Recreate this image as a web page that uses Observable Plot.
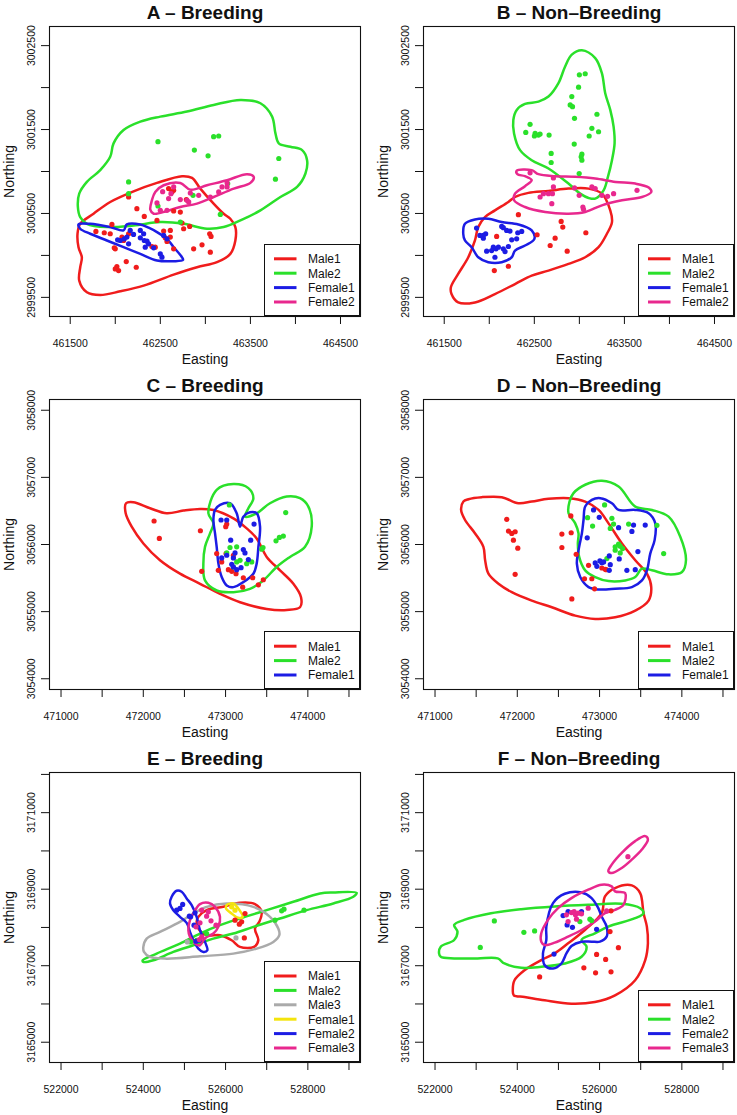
<!DOCTYPE html>
<html><head><meta charset="utf-8">
<script src="https://cdn.jsdelivr.net/npm/d3@7"></script>
<script src="https://cdn.jsdelivr.net/npm/@observablehq/plot@0.6"></script>
<style>
html,body{margin:0;padding:0;background:#fff;overflow:hidden;}
#page{position:relative;width:737px;height:1115px;font-family:"Liberation Sans",Arial,Helvetica,sans-serif;}
#page svg{position:absolute;}
</style></head><body><div id="page"></div>
<script>
// ---------- axes ----------
const xDomainAB = [461270, 464722];
const yDomainAB = [2999272, 3002728];
const xTicksAB = [461500, 462000, 462500, 463000, 463500, 464000, 464500];
const xLabelsAB = [461500, 462500, 463500, 464500];
const yTicksAB = [2999500, 3000000, 3000500, 3001000, 3001500, 3002000, 3002500];
const yLabelsAB = [2999500, 3000500, 3001500, 3002500];

const xDomainCD = [470860, 474640];
const yDomainCD = [3053840, 3058160];
const xTicksCD = [471000, 471500, 472000, 472500, 473000, 473500, 474000, 474500];
const xLabelsCD = [471000, 472000, 473000, 474000];
const yTicksCD = [3054000, 3055000, 3056000, 3057000, 3058000];
const yLabelsCD = [3054000, 3055000, 3056000, 3057000, 3058000];

const xDomainEF = [521720, 529280];
const yDomainEF = [3164470, 3172050];
const xTicksEF = [522000, 523000, 524000, 525000, 526000, 527000, 528000, 529000];
const xLabelsEF = [522000, 524000, 526000, 528000];
const yTicksEF = [3165000, 3166000, 3167000, 3168000, 3169000, 3170000, 3171000, 3172000];
const yLabelsEF = [3165000, 3167000, 3169000, 3171000];

// ---------- groups & colours ----------
const groupsAB = ["Male1", "Male2", "Female1", "Female2"];
const colorsAB = ["#f01c1c", "#2ae02a", "#1c1ce4", "#e8288e"];
const groupsCD = ["Male1", "Male2", "Female1"];
const colorsCD = ["#f01c1c", "#2ae02a", "#1c1ce4"];
const groupsE = ["Male1", "Male2", "Male3", "Female1", "Female2", "Female3"];
const colorsE = ["#f01c1c", "#2ae02a", "#aaaaaa", "#f4e40c", "#1c1ce4", "#e8288e"];
const groupsF = ["Male1", "Male2", "Female2", "Female3"];
const colorsF = ["#f01c1c", "#2ae02a", "#1c1ce4", "#e8288e"];

// ---------- A : Breeding ----------
const rangesA = {
  Male1: [[461581,3000258],[461592,3000098],[461629,2999978],[461611,2999859],[461600,2999699],[461685,2999560],[461833,2999528],[462055,2999572],[462315,2999640],[462648,2999771],[462907,2999859],[463129,2999919],[463277,3000018],[463333,3000178],[463333,3000337],[463277,3000437],[463203,3000497],[463092,3000617],[462944,3000796],[462852,3000924],[462741,3000944],[462463,3000864],[462203,3000764],[461944,3000637],[461759,3000497],[461611,3000377]],
  Male2: [[461611,3000457],[461685,3000377],[461907,3000338],[462203,3000357],[462500,3000397],[462759,3000377],[463018,3000318],[463203,3000338],[463389,3000417],[463611,3000537],[463833,3000696],[464018,3000816],[464111,3000976],[464129,3001135],[464074,3001255],[463944,3001295],[463815,3001335],[463778,3001454],[463741,3001654],[463611,3001813],[463389,3001853],[463092,3001793],[462796,3001714],[462500,3001654],[462278,3001594],[462092,3001494],[461981,3001335],[461944,3001175],[461833,3001016],[461685,3000876],[461600,3000736],[461585,3000577]],
  Female1: [[461592,3000369],[461722,3000377],[461944,3000338],[462092,3000298],[462129,3000369],[462278,3000369],[462370,3000330],[462463,3000278],[462574,3000198],[462648,3000098],[462741,2999978],[462752,2999946],[462648,2999931],[462463,2999939],[462278,3000018],[462092,3000098],[461907,3000178],[461722,3000258],[461611,3000318]],
  Female2: [[462444,3000756],[462537,3000836],[462722,3000864],[462833,3000784],[463018,3000836],[463241,3000896],[463463,3000968],[463537,3000936],[463500,3000864],[463315,3000796],[463092,3000696],[462907,3000617],[462722,3000577],[462574,3000529],[462426,3000497],[462389,3000545],[462407,3000657]]
};
const pointsA = {
  Male1: [[461785,3000286],[461878,3000270],[461944,3000258],[461963,3000369],[462000,3000078],[461989,3000090],[462074,3000218],[462018,2999867],[462000,2999839],[462037,2999819],[462122,2999927],[462233,2999859],[462092,3000178],[462240,3000557],[462322,3000465],[462407,3000106],[462444,3000098],[462463,3000417],[462537,3000290],[462555,3000210],[462574,3000166],[462611,3000218],[462648,3000078],[462722,3000517],[462741,3000385],[462759,3000318],[462826,3000346],[462870,3000078],[462963,3000126],[463048,3000258],[463063,3000226],[463055,3000038],[462789,3000665],[462648,3000529],[462592,3000796],[462629,3000756],[462648,3000776],[462148,3000696],[462148,3000258],[462611,3000298]],
  Male2: [[462474,3001355],[462878,3001255],[463030,3001187],[463092,3001415],[463148,3001423],[463815,3001155],[463778,3000908],[462148,3000876],[462148,3000736],[462474,3000589],[462863,3000716],[463248,3000856],[463166,3000489],[462722,3000397]],
  Female1: [[462026,3000186],[462055,3000178],[462100,3000198],[462129,3000218],[462166,3000298],[462203,3000250],[462278,3000298],[462315,3000258],[462322,3000178],[462352,3000170],[462370,3000138],[462426,3000090],[462500,3000018],[462537,3000238],[462574,3000198],[462148,3000138],[462278,3000210],[462333,3000098],[462518,2999979]],
  Female2: [[462500,3000537],[462574,3000537],[462592,3000677],[462618,3000736],[462648,3000816],[462722,3000665],[462796,3000657],[462815,3000637],[462833,3000744],[462926,3000716],[463055,3000696],[463148,3000756],[463185,3000816],[463241,3000816],[463241,3000864],[462463,3000625],[462526,3000760]]
};

// ---------- B : Non-Breeding ----------
const rangesB = {
  Male1: [[461581,2999540],[461574,2999620],[461655,2999779],[461767,2999978],[461841,3000178],[461878,3000338],[461952,3000457],[462063,3000537],[462212,3000637],[462286,3000696],[462434,3000745],[462657,3000768],[462879,3000796],[463102,3000796],[463250,3000736],[463343,3000537],[463362,3000397],[463306,3000258],[463213,3000098],[463065,2999978],[462879,2999899],[462657,2999819],[462471,2999759],[462286,2999659],[462063,2999540],[461841,2999440],[461655,2999440]],
  Male2: [[463028,3002444],[463176,3002352],[463250,3002172],[463287,3001933],[463343,3001734],[463380,3001534],[463391,3001335],[463362,3001135],[463317,3000936],[463269,3000776],[463176,3000677],[463102,3000685],[463009,3000736],[462879,3000856],[462657,3001036],[462471,3001135],[462342,3001255],[462275,3001454],[462267,3001614],[462305,3001734],[462397,3001805],[462546,3001833],[462657,3001893],[462768,3002053],[462842,3002252],[462916,3002392]],
  Female1: [[461711,3000258],[461730,3000377],[461841,3000429],[461989,3000437],[462138,3000397],[462323,3000369],[462471,3000298],[462501,3000198],[462397,3000118],[462286,3000058],[462249,2999978],[462138,2999919],[461989,2999919],[461878,2999978],[461804,3000098],[461730,3000178]],
  Female2: [[462304,3001008],[462471,3001016],[462546,3000968],[462731,3000944],[462954,3000936],[463176,3000916],[463401,3000876],[463621,3000856],[463770,3000808],[463799,3000756],[463695,3000696],[463473,3000657],[463250,3000597],[463065,3000517],[462879,3000497],[462620,3000517],[462397,3000577],[462275,3000657],[462286,3000736],[462397,3000825],[462471,3000896],[462397,3000944],[462312,3000968]]
};
const pointsB = {
  Male1: [[462323,3000485],[462798,3000405],[462816,3000338],[462531,3000246],[462731,3000206],[462676,3000118],[462865,3000050],[463072,3000270],[462082,3000226],[462056,2999819],[462212,2999871]],
  Male2: [[463000,3002152],[463065,3002165],[462991,3002005],[462916,3001893],[462898,3001793],[462924,3001773],[462946,3001634],[463195,3001682],[463139,3001514],[463213,3001474],[463109,3001423],[462943,3001327],[463028,3001207],[463020,3001175],[463028,3001135],[462998,3000976],[462687,3001215],[462687,3001107],[462664,3001434],[462509,3001454],[462546,3001434],[462564,3001447],[462501,3001423],[462405,3001466],[462453,3001562]],
  Female1: [[461859,3000326],[461896,3000238],[461934,3000206],[461960,3000258],[462138,3000346],[462193,3000298],[462230,3000290],[462316,3000270],[462360,3000286],[462304,3000198],[462045,3000098],[462075,3000078],[462101,3000098],[462156,3000078],[461971,3000050],[462026,3000058],[462063,2999978],[462175,3000046],[462212,3000106],[462249,3000186],[461934,3000238],[462156,3000330]],
  Female2: [[462453,3000984],[462712,3000924],[462564,3000696],[462601,3000736],[462657,3000736],[462701,3000736],[462712,3000816],[462946,3000804],[462998,3000716],[463139,3000816],[463176,3000796],[463250,3000716],[463313,3000704],[463380,3000736],[463640,3000776],[463039,3000577],[463046,3000549],[462694,3000617]]
};

// ---------- C : Breeding ----------
const rangesC = {
  Male1: [[471790,3056615],[471879,3056630],[472082,3056540],[472285,3056465],[472487,3056505],[472690,3056530],[472852,3056515],[473095,3056390],[473257,3056240],[473378,3056090],[473500,3055815],[473662,3055615],[473824,3055415],[473917,3055215],[473905,3055065],[473743,3055025],[473500,3055040],[473176,3055140],[472933,3055265],[472690,3055415],[472446,3055565],[472203,3055765],[472001,3056015],[471859,3056265],[471786,3056465]],
  Male2: [[472791,3056465],[472892,3056815],[473095,3056900],[473277,3056840],[473338,3056690],[473277,3056540],[473236,3056415],[473378,3056465],[473540,3056615],[473743,3056715],[473905,3056690],[474006,3056565],[474047,3056265],[473966,3055965],[473783,3055815],[473621,3055665],[473459,3055465],[473297,3055340],[473095,3055290],[472892,3055315],[472750,3055465],[472730,3055715],[472750,3055965],[472811,3056165],[472852,3056315]],
  Female1: [[472872,3056515],[472933,3056590],[473054,3056615],[473135,3056465],[473176,3056265],[473216,3056415],[473297,3056480],[473378,3056465],[473419,3056265],[473399,3055965],[473378,3055715],[473338,3055565],[473216,3055440],[473095,3055365],[473014,3055390],[472953,3055515],[472913,3055715],[472892,3055965],[472872,3056165],[472852,3056365]]
};
const pointsC = {
  Male1: [[472131,3056350],[472195,3056090],[472694,3056205],[473002,3056265],[472892,3055865],[473006,3055865],[472953,3055740],[472710,3055600],[472912,3055615],[473034,3055625],[473075,3055600],[473127,3055565],[473216,3055505],[473330,3055505],[473399,3055400],[473459,3055475],[473208,3055365],[473095,3055840],[473014,3056305]],
  Male2: [[473046,3056590],[473731,3056475],[473702,3056125],[473654,3056105],[473613,3056055],[473455,3055955],[473439,3055930],[473054,3055955],[473135,3055965],[473176,3055765],[473135,3055740],[473257,3055715],[473318,3055740],[473095,3055665],[473014,3055875]],
  Female1: [[472945,3056365],[473014,3056365],[473346,3056305],[473062,3056065],[473305,3056065],[473216,3055925],[473236,3055875],[473115,3055875],[473014,3055840],[472953,3055800],[473095,3055800],[473075,3055705],[473095,3055665],[473188,3055655],[473277,3055775],[473135,3055625]]
};

// ---------- D : Non-Breeding ----------
const rangesD = {
  Male1: [[471345,3056640],[471406,3056675],[471568,3056705],[471811,3056705],[472014,3056615],[472176,3056640],[472379,3056680],[472623,3056690],[472825,3056640],[472988,3056515],[473109,3056315],[473272,3056015],[473434,3055765],[473576,3055565],[473628,3055365],[473596,3055165],[473434,3055015],[473190,3054915],[472947,3054890],[472704,3054940],[472420,3055065],[472176,3055165],[471933,3055290],[471771,3055415],[471649,3055565],[471609,3055765],[471588,3055965],[471487,3056165],[471365,3056365],[471317,3056515]],
  Male2: [[472683,3056765],[472825,3056890],[473028,3056950],[473231,3056865],[473434,3056565],[473637,3056515],[473839,3056415],[473981,3056115],[474050,3055765],[474002,3055590],[473839,3055555],[473637,3055615],[473515,3055640],[473434,3055515],[473312,3055465],[473109,3055455],[472947,3055515],[472825,3055615],[472752,3055815],[472736,3056015],[472744,3056165],[472704,3056315],[472623,3056465],[472635,3056640]],
  Female1: [[472825,3056565],[472906,3056665],[473008,3056690],[473150,3056615],[473231,3056515],[473434,3056515],[473596,3056465],[473677,3056315],[473669,3056065],[473616,3055865],[473576,3055615],[473515,3055465],[473393,3055365],[473190,3055340],[472988,3055330],[472866,3055365],[472765,3055515],[472724,3055715],[472752,3055965],[472785,3056165],[472805,3056365]]
};
const pointsD = {
  Male1: [[471872,3056375],[471893,3056200],[471933,3056165],[471974,3056190],[471953,3056065],[472006,3055945],[471974,3055555],[472542,3056155],[472655,3056175],[472651,3056425],[472542,3055955],[472716,3055855],[472866,3055690],[472906,3055490],[472817,3055490],[473028,3055650],[473069,3055630],[473081,3055625],[472663,3055190],[472939,3055340]],
  Male2: [[472854,3056400],[472915,3056275],[473061,3056590],[473150,3056390],[473170,3056305],[473130,3056240],[473353,3056305],[473697,3056285],[473779,3055865],[473231,3056005],[473251,3055975],[473190,3055915],[473280,3055940],[473251,3055875],[473089,3055790],[473190,3055965]],
  Female1: [[472927,3056515],[472996,3056405],[472850,3056100],[473231,3056250],[473413,3056290],[473555,3056290],[473393,3056195],[473466,3055895],[473239,3055785],[473118,3055830],[473130,3055700],[473118,3055615],[473004,3055755],[472947,3055725],[472967,3055675],[473028,3055730],[473049,3055740],[473332,3055615],[473434,3055625]]
};

// ---------- E : Breeding ----------
const rangesE = {
  Male1: [[525338,3168277],[525540,3168452],[525945,3168539],[526350,3168644],[526715,3168609],[526877,3168408],[526820,3168146],[526715,3167971],[526796,3167665],[526691,3167491],[526350,3167491],[526148,3167665],[525864,3167797],[525540,3167797],[525338,3167971],[525297,3168146]],
  Male2: [[523985,3167141],[524325,3167316],[524892,3167578],[525378,3167840],[525864,3168059],[526350,3168234],[526999,3168452],[527647,3168670],[528295,3168889],[528619,3168915],[529186,3168906],[529105,3168802],[528619,3168627],[527971,3168452],[527323,3168234],[526675,3168015],[526189,3167840],[525703,3167709],[525216,3167534],[524730,3167360],[524244,3167141],[524001,3167098]],
  Male3: [[524001,3167491],[524082,3167709],[524406,3167884],[524892,3168146],[525216,3168365],[525540,3168539],[526026,3168627],[526675,3168539],[527080,3168277],[527282,3167971],[527306,3167797],[527161,3167622],[526756,3167447],[526189,3167316],[525378,3167246],[524568,3167185],[524163,3167229],[524017,3167360]],
  Female1: [[526026,3168583],[526189,3168627],[526310,3168496],[526415,3168277],[526310,3168251],[526148,3168365],[526010,3168496]],
  Female2: [[524690,3168802],[524811,3168959],[524933,3168933],[525054,3168758],[525176,3168583],[525297,3168277],[525378,3167928],[525500,3167622],[525557,3167403],[525459,3167360],[525338,3167447],[525216,3167665],[525135,3167884],[525054,3168120],[524892,3168277],[524730,3168452],[524649,3168627]],
  Female3: [[525216,3168365],[525378,3168609],[525581,3168644],[525743,3168539],[525864,3168277],[525824,3168015],[525703,3167840],[525540,3167753],[525459,3167665],[525378,3167534],[525257,3167578],[525135,3167753],[525095,3167928],[525135,3168190]]
};
const pointsE = {
  Male1: [[526472,3168365],[526335,3168085],[526229,3168190],[526391,3168146],[526456,3167727]],
  Male2: [[527201,3168190],[527363,3168434],[527420,3168478],[527906,3168452],[525151,3167622],[525297,3167665],[525540,3167840]],
  Male3: [[525070,3167622],[526253,3167727]],
  Female1: [[526148,3168539],[526229,3168452]],
  Female2: [[524811,3168452],[524892,3168496],[524957,3168601],[525119,3168295],[525151,3168277],[525233,3168059],[525257,3168382],[525362,3167665],[525281,3167639]],
  Female3: [[525419,3168452],[525581,3168408],[525378,3168120],[525281,3168015],[525540,3168295],[525646,3168172],[525767,3168059],[525419,3167753],[525362,3167683]]
};

// ---------- F : Non-Breeding ----------
const rangesF = {
  Male1: [[523891,3166358],[523932,3166621],[524176,3166883],[524583,3167146],[524909,3167321],[525235,3167584],[525643,3167934],[526050,3168372],[526132,3168810],[526376,3169029],[526784,3169099],[526987,3168898],[527069,3168372],[527150,3168022],[527175,3167584],[527110,3167146],[526865,3166621],[526376,3166226],[525887,3166051],[525317,3166007],[524665,3166095],[524176,3166183],[523915,3166226]],
  Male2: [[522098,3167321],[522139,3167496],[522465,3167672],[522546,3167891],[522465,3168066],[522709,3168197],[523361,3168372],[524094,3168477],[524909,3168548],[525724,3168591],[526539,3168618],[526987,3168504],[527069,3168372],[526865,3168241],[526213,3168022],[525887,3167847],[525561,3167672],[525684,3167496],[525561,3167233],[525154,3167058],[524583,3166971],[524094,3166944],[523687,3167058],[523524,3167190],[523035,3167190],[522465,3167190],[522139,3167233]],
  Female2: [[524706,3168022],[524869,3168635],[525154,3168880],[525561,3168915],[525806,3168767],[525969,3168504],[526050,3168285],[526172,3168022],[526172,3167759],[526009,3167628],[525806,3167628],[525561,3167628],[525317,3167514],[525194,3167321],[525072,3167058],[524869,3166927],[524665,3167015],[524624,3167321],[524706,3167672]],
  Female3: [
    [[524583,3167628],[524583,3167847],[524746,3168197],[524991,3168504],[525317,3168767],[525724,3168986],[526050,3169117],[526295,3169073],[526376,3168942],[526621,3168898],[526580,3168591],[526376,3168460],[526132,3168372],[525887,3168153],[525561,3167934],[525235,3167759],[524909,3167602],[524665,3167540]],
    [[526213,3169467],[526295,3169642],[526539,3169949],[526865,3170256],[527110,3170387],[527175,3170299],[527028,3170036],[526784,3169774],[526539,3169555],[526295,3169423]]
  ]
};
const pointsF = {
  Male1: [[526278,3168434],[526254,3167891],[526458,3167470],[525928,3167295],[526148,3167163],[525618,3166945],[525903,3166813],[526278,3166839],[524543,3166708]],
  Male2: [[523442,3168171],[523100,3167479],[524160,3167873],[524421,3167908],[525521,3168154],[525765,3168215],[525806,3168180]],
  Female2: [[525113,3168311],[525235,3168416],[525561,3168416],[525211,3168066],[525341,3168004],[525928,3167952],[524893,3167303]],
  Female3: [[525194,3168329],[525235,3168153],[525317,3168390],[525381,3168416],[525414,3168329],[525439,3168215],[525480,3168372],[525561,3168355],[525724,3168504],[526172,3168434],[526689,3169850]]
};

const panels = [
  {title: "A – Breeding", row: 0, col: 0, xDomain: xDomainAB, yDomain: yDomainAB, xTicks: xTicksAB, xLabels: xLabelsAB, yTicks: yTicksAB, yLabels: yLabelsAB, groups: groupsAB, colors: colorsAB, ranges: rangesA, points: pointsA},
  {title: "B – Non–Breeding", row: 0, col: 1, xDomain: xDomainAB, yDomain: yDomainAB, xTicks: xTicksAB, xLabels: xLabelsAB, yTicks: yTicksAB, yLabels: yLabelsAB, groups: groupsAB, colors: colorsAB, ranges: rangesB, points: pointsB},
  {title: "C – Breeding", row: 1, col: 0, xDomain: xDomainCD, yDomain: yDomainCD, xTicks: xTicksCD, xLabels: xLabelsCD, yTicks: yTicksCD, yLabels: yLabelsCD, groups: groupsCD, colors: colorsCD, ranges: rangesC, points: pointsC},
  {title: "D – Non–Breeding", row: 1, col: 1, xDomain: xDomainCD, yDomain: yDomainCD, xTicks: xTicksCD, xLabels: xLabelsCD, yTicks: yTicksCD, yLabels: yLabelsCD, groups: groupsCD, colors: colorsCD, ranges: rangesD, points: pointsD},
  {title: "E – Breeding", row: 2, col: 0, xDomain: xDomainEF, yDomain: yDomainEF, xTicks: xTicksEF, xLabels: xLabelsEF, yTicks: yTicksEF, yLabels: yLabelsEF, groups: groupsE, colors: colorsE, ranges: rangesE, points: pointsE},
  {title: "F – Non–Breeding", row: 2, col: 1, xDomain: xDomainEF, yDomain: yDomainEF, xTicks: xTicksEF, xLabels: xLabelsEF, yTicks: yTicksEF, yLabels: yLabelsEF, groups: groupsF, colors: colorsF, ranges: rangesF, points: pointsF}
];

const FONT = '"Liberation Sans", Arial, Helvetica, sans-serif';
const BOX_W = 311, BOX_H = 290, M_LEFT = 49, M_TOP = 26;
const page = document.getElementById("page");

function drawLegend(p, colLeft, rowTop) {
  const n = p.groups.length, w = 96, h = Math.round(14.4 * n + 14.6);
  const left = colLeft + M_LEFT + BOX_W - w, top = rowTop + M_TOP + BOX_H - h;
  const svg = d3.select(page).append("svg")
    .attr("width", w).attr("height", h)
    .style("left", left + "px").style("top", top + "px");
  svg.append("rect").attr("x", 0.5).attr("y", 0.5).attr("width", w - 1).attr("height", h - 1)
    .attr("fill", "#fff").attr("stroke", "#111").attr("stroke-width", 1);
  p.groups.forEach((g, i) => {
    const cy = h - 14 - (n - 1 - i) * 14.4;
    svg.append("line").attr("x1", 10).attr("x2", 32.5).attr("y1", cy).attr("y2", cy)
      .attr("stroke", p.colors[i]).attr("stroke-width", 3);
    svg.append("text").attr("x", 44).attr("y", cy).attr("dy", "0.36em")
      .attr("font-size", 12).attr("font-family", FONT).attr("fill", "#111").text(g);
  });
}

for (const p of panels) {
  const width = p.col === 0 ? 365 : 363;
  const height = p.row === 2 ? 369 : 372;
  const colLeft = p.col === 0 ? 0 : 374;
  const rowTop = [0, 373, 746][p.row];
  const rangeRows = [];
  for (const [g, rings] of Object.entries(p.ranges)) {
    const list = Array.isArray(rings[0][0]) ? rings : [rings];
    list.forEach((ring, i) => ring.forEach(([x, y]) => rangeRows.push({g, ring: g + "-" + i, x, y})));
  }
  const pointRows = Object.entries(p.points).flatMap(([g, pts]) => pts.map(([x, y]) => ({g, x, y})));
  const chart = Plot.plot({
    width, height,
    marginLeft: M_LEFT, marginRight: width - M_LEFT - BOX_W,
    marginTop: M_TOP, marginBottom: height - M_TOP - BOX_H,
    x: {domain: p.xDomain},
    y: {domain: p.yDomain},
    color: {type: "ordinal", domain: p.groups, range: p.colors},
    style: {fontFamily: FONT, background: "transparent", color: "#111", overflow: "visible"},
    marks: [
      Plot.line(rangeRows, {x: "x", y: "y", z: "ring", stroke: "g", strokeWidth: 2.5, curve: "catmull-rom-closed"}),
      Plot.dot(pointRows, {x: "x", y: "y", fill: "g", r: 2.6}),
      Plot.frame({stroke: "#111", strokeWidth: 1.1}),
      Plot.axisX({ticks: p.xTicks, tickSize: 8, tickFormat: () => "", label: null}),
      Plot.axisY({ticks: p.yTicks, tickSize: 8, tickFormat: () => "", label: null}),
      Plot.text(p.xLabels, {x: d => d, frameAnchor: "bottom", dy: 27, text: d => String(d), fontSize: 10.5, textAnchor: "middle", lineAnchor: "middle"}),
      Plot.text(p.yLabels, {y: d => d, frameAnchor: "left", dx: -18, rotate: -90, text: d => String(d), fontSize: 10.5, textAnchor: "middle", lineAnchor: "middle"}),
      Plot.text(["Easting"], {frameAnchor: "bottom", dy: 43, text: d => d, fontSize: 14, textAnchor: "middle", lineAnchor: "middle"}),
      Plot.text(["Northing"], {frameAnchor: "left", dx: -40, rotate: -90, text: d => d, fontSize: 14, textAnchor: "middle", lineAnchor: "middle"}),
      Plot.text([p.title], {frameAnchor: "top", dy: -14, text: d => d, fontSize: 19, fontWeight: "bold", textAnchor: "middle", lineAnchor: "middle"})
    ]
  });
  chart.style.left = colLeft + "px";
  chart.style.top = rowTop + "px";
  page.appendChild(chart);
  drawLegend(p, colLeft, rowTop);
}
</script></body></html>
